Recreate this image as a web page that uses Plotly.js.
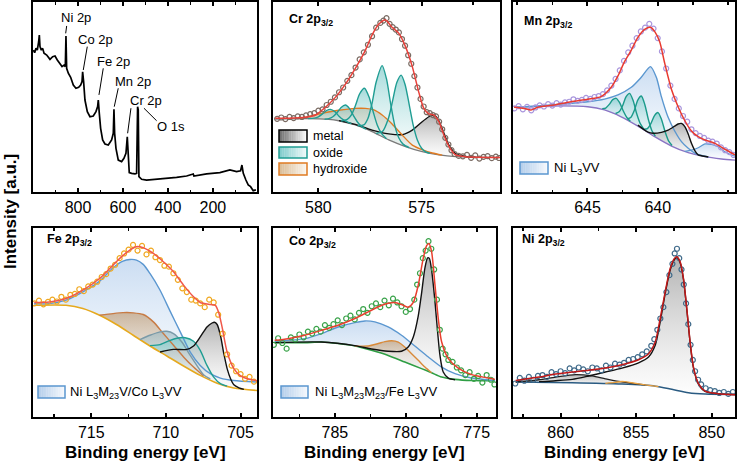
<!DOCTYPE html>
<html><head><meta charset="utf-8">
<script src="https://cdn.plot.ly/plotly-3.0.1.min.js"></script>
<style>html,body{margin:0;padding:0;background:#fff}#plot{width:739px;height:463px}</style>
</head><body><div id="plot"></div>
<script>
// ---------------- DATA ----------------
// Survey spectrum
const SURVEY_E = [998.5,992.6,986.7,980.8,974.8,971.9,969,963,957,951,939,924.5,912.6,902,892,880,871,862,856.3,853.4,850.4,843,832.6,820.8,809,797,788,782,779.3,774.9,769,758.5,746.7,732,720,712.6,709.7,705.2,699.3,690.4,680,665.2,650.4,643,640,637,631.1,620.8,606,595.6,586.7,580.8,576.3,572,561.5,546.7,539.3,534.9,532,529,517,495,450.4,406,361.6,317,287.4,284.5,228,169,124.5,94.8,77,71,65,53.4,43,32.5,20.8,9];
const SURVEY_I = [74.7,73.3,75.6,74.7,79.1,82.6,76.5,74.7,75.6,73,72.1,69.8,71.2,71.6,69.5,67.4,66,66.8,66,82.1,65.1,62.5,60.4,56.3,54.6,55.1,56.3,58.1,63.3,58.1,48.4,42.3,39.6,40,42.3,45,48.4,41.4,33.5,27.4,25.3,24.7,27.4,30.9,43.5,30.9,23,16.8,16,17.7,20.4,29.1,20.4,10.2,9.8,9.5,9.8,44.9,43.2,8.1,6.7,6.3,6.7,7.2,7.7,8.4,9.5,8.4,9.5,10.2,11.6,10.7,11.2,14.2,9.8,6.3,3.7,2.8,0.7,1.1];
const SURVEY_LABELS = ['Ni 2p','Co 2p','Fe 2p','Mn 2p','Cr 2p','O 1s'];
const SURVEY_LABEL_E = [808.9,720,640,555.6,497.9,386.8];
const SURVEY_LABEL_I = [91.8,80.5,68.9,58.4,47.9,34.7];
const SURVEY_LEAD_E0 = [850.3,758.7,687.6,621,564.5,450.3];
const SURVEY_LEAD_I0 = [87.4,76.5,65.1,54.6,44.1,37.5];
const SURVEY_LEAD_E1 = [854.7,776.5,706.7,638.7,579.2,506.7];
const SURVEY_LEAD_I1 = [83.5,64.2,51.1,44.9,30.9,44.1];

// Cr 2p3/2
const CR_DATA_E = [582.0,581.8,581.6,581.4,581.2,581.0,580.8,580.6,580.4,580.2,580.0,579.8,579.6,579.4,579.2,579.0,578.8,578.6,578.4,578.2,578.0,577.8,577.6,577.4,577.2,577.0,576.85,576.7,576.55,576.4,576.25,576.1,575.95,575.8,575.65,575.5,575.35,575.2,575.05,574.9,574.75,574.6,574.45,574.3,574.15,574.0,573.85,573.7,573.55,573.4,573.2,573.0,572.8,572.6,572.4,572.2,572.0,571.8,571.6,571.4,571.25];
const CR_DATA_I = [38.5,39.2,38.4,39.5,38.9,39.8,39.5,40.3,41.0,41.5,42.8,43.5,45.8,47.5,49.8,52.5,55.0,58.5,61.5,65.5,69.8,73.5,77.5,82.0,86.5,89.0,90.2,91.5,88.5,86.8,85.5,84.0,80.5,77.0,72.0,67.5,61.0,55.0,49.0,45.0,42.0,41.5,40.5,39.8,37.0,33.0,28.5,25.0,22.0,20.0,19.0,18.8,19.5,18.0,19.3,17.6,18.5,18.9,17.8,18.6,17.9];
const CR_FIT_E = [582.09,581.44,580.63,580.15,579.66,579.18,578.69,578.21,577.72,577.40,577.07,576.75,576.43,576.10,575.78,575.45,575.13,574.89,574.65,574.40,574.16,573.92,573.67,573.35,572.87,571.17];
const CR_FIT_I = [38.8,38.8,39.3,40.5,44.6,49.8,56.8,65.1,74.7,82.6,88.4,90.5,86.7,83.5,76.5,66.0,52.3,44.0,41.1,40.5,37.0,30.0,23.9,19.5,18.6,18.2];
const CR_BG_E = [582.09,580.63,579.5,579.01,578.21,577.40,576.59,575.78,574.97,574.16,573.35,571.17];
const CR_BG_I = [38.4,38.6,38.2,37.5,35.3,31.8,27.4,23.9,21.2,19.5,18.6,18.2];
const CR_METAL_E = [579.0,578.21,577.4,576.59,575.94,575.45,574.97,574.65,574.48,574.32,574.16,573.92,573.67,573.35,572.87,572.38];
const CR_METAL_I = [37.6,35.6,32.6,30.6,30.2,32.6,37.0,39.6,40.4,40.0,37.5,31.0,24.5,20.2,18.7,18.3];
const CR_HYD_E = [580.96,579.82,579.01,578.21,577.72,577.31,576.91,576.43,575.94,575.45,574.97,574.48,574.0];
const CR_HYD_I = [38.6,41.4,43.0,44.0,44.0,43.2,40.5,35.8,30.0,24.7,22.3,20.5,19.4];
const CR_OX1_E = [577.2,576.9,576.6,576.4,576.2,575.99,575.8,575.6,575.4,575.2,575.0,574.8,574.6];
const CR_OX1_I = [30.8,31.8,39.0,48.2,57.6,61.5,56.6,46.0,34.9,27.2,23.0,21.1,20.4];
const CR_OX2_E = [578.1,577.8,577.6,577.4,577.2,576.91,576.7,576.5,576.3,576.1,575.9,575.6];
const CR_OX2_I = [34.9,35.3,38.7,46.7,57.9,66.5,59.5,46.5,35.1,28.4,25.2,23.3];
const CR_OX3_E = [578.9,578.6,578.4,578.2,578.0,577.77,577.55,577.35,577.15,576.95,576.7];
const CR_OX3_I = [37.3,38.2,40.6,45.7,51.7,54.6,50.1,42.4,35.3,31.0,28.0];
const CR_OX4_E = [579.7,579.5,579.3,579.1,578.9,578.69,578.5,578.3,578.1,577.9,577.7];
const CR_OX4_I = [38.3,38.6,39.6,41.7,44.5,45.8,44.0,40.2,36.7,34.4,33.1];
const CR_OX5_E = [580.5,580.2,580.0,579.8,579.6,579.42,579.2,579.0,578.8,578.6,578.4];
const CR_OX5_I = [38.7,38.9,39.6,41.1,42.9,43.5,42.3,39.9,38.1,36.9,36.0];

// Mn 2p3/2
const MN_DATA_E = [650.2,649.9,649.6,649.3,649.0,648.7,648.4,648.1,647.8,647.5,647.2,646.9,646.6,646.3,646.0,645.7,645.4,645.1,644.8,644.5,644.2,643.9,643.6,643.3,643.0,642.7,642.4,642.1,641.8,641.5,641.2,640.9,640.6,640.3,640.0,639.7,639.4,639.1,638.8,638.5,638.2,637.9,637.6,637.3,637.0,636.7,636.4,636.1,635.8,635.5,635.2,634.9,634.6];
const MN_DATA_I = [44.0,45.2,43.5,44.8,43.0,44.5,45.6,45.0,46.2,45.5,46.8,46.0,47.2,47.5,48.8,48.0,48.5,49.5,49.0,50.0,50.5,51.5,53.5,56.0,59.5,64.0,69.0,73.5,77.0,81.0,84.5,86.5,88.5,86.0,81.0,74.0,65.0,56.0,49.0,44.0,40.0,37.0,33.0,31.0,29.5,28.5,27.0,26.5,25.5,23.5,22.0,21.0,19.5];
const MN_FIT_E = [650.22,649.50,649.02,648.55,647.36,646.17,644.98,644.03,643.31,642.83,642.36,641.88,641.41,640.93,640.52,640.21,639.86,639.50,639.02,638.55,638.07,637.60,637.12,636.64,635.93,635.22,634.50];
const MN_FIT_I = [44.6,44.0,43.2,44.6,45.8,47.5,48.8,50.2,55.1,61.1,68.6,74.7,81.4,85.6,86.7,84.4,79.1,67.7,54.0,44.9,37.5,32.1,29.1,27.4,25.6,22.5,19.5];
const MN_BG_E = [650.22,647.36,644.98,643.79,642.60,641.41,640.22,639.02,637.83,636.64,635.45,634.50];
const MN_BG_I = [44.6,45.3,44.9,43.2,39.6,34.7,29.1,24.2,20.7,18.6,17.4,16.8];
const MN_AUG_E = [650.22,648.55,646.17,644.98,643.79,642.83,641.88,641.17,640.52,640.10,639.74,639.26,638.79,638.31,637.83,637.36,636.88,636.4];
const MN_AUG_I = [44.6,45.3,46.7,47.5,48.9,51.1,55.1,60.4,66.0,60.4,50.2,39.3,32.1,26.5,23.0,20.5,19.2,18.4];
const MN_AUG2_E = [638.07,637.6,637.12,636.64,636.17,635.69,635.22,634.74,634.5];
const MN_AUG2_I = [21.4,22.0,23.3,25.3,25.0,23.8,21.2,19.5,18.9];
const MN_OX1_E = [643.95,643.7,643.45,643.2,642.95,642.7,642.45,642.2,641.95];
const MN_OX1_I = [43.9,44.2,46.1,48.6,49.3,46.9,42.6,39.2,37.2];
const MN_OX2_E = [643.0,642.75,642.5,642.25,642.0,641.75,641.5,641.25,641.0];
const MN_OX2_I = [41.3,42.2,45.4,50.2,51.9,48.1,41.3,36.1,33.2];
const MN_OX3_E = [642.17,641.92,641.67,641.42,641.17,640.92,640.67,640.42,640.17];
const MN_OX3_I = [38.4,39.2,42.9,48.4,50.5,46.1,38.3,32.4,29.4];
const MN_OX4_E = [640.98,640.73,640.48,640.23,639.98,639.73,639.48,639.23,638.98];
const MN_OX4_I = [33.1,33.4,36.1,40.2,41.8,38.2,31.8,26.9,24.5];
const MN_METAL_E = [641.41,640.69,640.33,639.74,639.26,638.79,638.55,638.31,638.07,637.83,637.60,637.36,637.12,636.88,636.4];
const MN_METAL_I = [35.2,31.5,30.9,31.4,32.6,34.7,35.8,36.1,34.4,30.5,25.6,21.8,19.5,19.1,18.4];

// Fe 2p3/2
const FE_DATA_E = [718.8,718.5,718.2,717.9,717.6,717.3,717.0,716.7,716.4,716.1,715.8,715.5,715.2,714.9,714.6,714.3,714.0,713.7,713.4,713.1,712.8,712.5,712.2,711.9,711.6,711.3,711.0,710.7,710.4,710.1,709.8,709.5,709.2,708.9,708.6,708.3,708.0,707.7,707.4,707.1,706.8,706.5,706.2,705.9,705.6,705.3,705.0,704.7,704.4,704.1];
const FE_DATA_I = [60.0,61.5,59.5,60.8,62.0,61.0,63.5,62.0,64.5,65.0,67.5,66.5,69.0,70.0,71.5,74.0,75.5,78.5,80.5,84.0,86.5,88.5,91.0,88.0,90.5,86.0,88.0,84.5,83.0,80.0,79.5,76.0,72.5,68.0,66.0,62.0,61.5,60.0,58.0,62.0,60.5,54.0,44.0,33.0,27.0,24.0,22.5,20.0,21.0,18.5];
const FE_FIT_E = [718.82,717.81,716.69,715.56,714.44,713.76,713.09,712.42,711.97,711.52,710.84,710.17,709.49,708.82,708.15,707.70,707.03,706.69,706.46,706.24,705.90,705.45,705.00,704.55,703.88];
const FE_FIT_I = [60.5,60.8,62.6,67.0,73.2,78.5,83.9,88.3,90.1,89.5,86.5,82.1,76.8,69.7,63.5,60.5,59.4,59.0,55.1,47.5,34.2,25.4,21.5,20.0,19.0];
const FE_BG_E = [718.82,716.69,715.56,714.44,713.31,712.19,711.07,709.94,708.82,707.70,706.57,705.45,703.88];
const FE_BG_I = [59.0,59.0,57.3,53.7,48.8,43.1,37.4,32.1,26.8,21.8,17.7,15.1,13.8];
const FE_AUG_E = [718.82,717.81,716.69,715.56,714.44,713.54,712.87,712.42,711.97,711.52,711.07,710.39,709.72,709.04,708.37,707.70,707.03,706.35,705.45,703.88];
const FE_AUG_I = [59.8,59.9,61.7,66.1,71.8,78.9,82.4,83.3,83.0,80.7,75.9,67.0,55.9,44.9,34.2,27.1,22.7,20.4,19.1,18.3];
const FE_HYD_E = [714.44,713.54,712.87,712.19,711.52,710.84,710.17,709.49,708.82,708.15,707.48];
const FE_HYD_I = [53.7,54.6,55.1,55.0,54.1,50.2,44.0,37.8,31.6,26.2,21.5];
const FE_OX_E = [711.07,710.39,709.72,709.27,708.71,708.15,707.70,707.25,706.80,706.35,705.90];
const FE_OX_I = [37.6,38.1,40.4,41.5,41.8,39.9,35.1,27.1,20.9,17.4,16.1];
const FE_MUL_E = [711.74,711.07,710.39,709.94,709.49,708.93,708.37,707.93,707.48,707.03];
const FE_MUL_I = [40.8,43.1,44.9,45.2,44.0,39.5,32.4,27.1,22.2,20.0];
const FE_METAL_E = [710.39,709.49,708.60,708.15,707.70,707.25,706.91,706.75,706.57,706.35,706.12,705.90,705.67,705.45,705.11,704.78];
const FE_METAL_I = [34.2,35.6,35.6,37.4,42.2,47.5,49.6,50.0,48.8,43.1,33.3,25.4,20.0,16.8,15.2,14.4];

// Co 2p3/2
const CO_DATA_E = [789.3,789.0,788.7,788.4,788.1,787.8,787.5,787.2,786.9,786.6,786.3,786.0,785.7,785.4,785.1,784.8,784.5,784.2,783.9,783.6,783.3,783.0,782.7,782.4,782.1,781.8,781.5,781.2,780.9,780.6,780.3,780.0,779.7,779.4,779.2,779.0,778.8,778.6,778.4,778.2,778.0,777.8,777.6,777.4,777.2,777.0,776.7,776.4,776.1,775.8,775.5,775.2,774.9,774.6,774.3,774.0,773.75];
const CO_DATA_I = [38.0,41.5,39.0,36.0,42.0,41.0,43.5,42.0,45.0,44.0,46.5,45.0,48.5,47.0,49.0,51.0,48.5,52.0,53.5,51.5,55.0,57.0,55.0,58.5,60.0,58.0,61.5,59.0,62.5,60.5,58.5,55.5,57.0,62.0,70.0,76.0,84.0,88.0,93.0,89.0,78.0,62.0,46.0,36.0,33.0,30.0,29.0,26.0,24.5,22.0,23.5,20.0,21.5,18.0,22.0,19.5,17.0];
const CO_FIT_E = [789.24,788.30,787.12,785.94,784.77,783.59,782.65,781.94,781.24,780.77,780.30,779.83,779.47,779.12,778.77,778.53,778.37,778.18,777.94,777.71,777.47,777.00,776.30,775.36,774.18,773.71];
const CO_FIT_I = [40.4,41.3,43.1,45.7,48.4,52.0,55.5,58.2,60.1,60.5,59.4,58.0,60.5,69.7,83.9,90.6,91.8,87.4,69.7,52.0,39.5,30.7,25.7,22.2,20.4,19.7];
const CO_BG_E = [789.24,787.12,785.94,784.77,783.59,782.42,781.24,780.07,778.89,778.18,777.47,776.53,775.36,773.71];
const CO_BG_I = [39.2,39.2,39.5,38.7,37.4,35.1,32.4,28.9,25.4,23.2,20.9,19.7,19.1,19.0];
const CO_AUG_E = [789.24,787.12,785.94,784.77,783.59,782.89,782.18,781.24,780.30,779.36,778.41,777.47,776.53,775.36,773.71];
const CO_AUG_I = [39.9,41.3,44.0,47.5,49.8,50.7,50.2,47.5,43.1,37.4,31.6,26.2,22.7,20.4,19.1];
const CO_SAT_E = [783.59,782.65,781.94,781.47,781.0,780.53,780.07,779.59,779.12,778.65,778.18];
const CO_SAT_I = [37.4,37.4,38.7,39.7,40.2,39.5,36.9,33.3,29.8,26.2,23.2];
const CO_METAL_E = [789.24,785.94,783.59,782.42,781.24,780.30,779.83,779.47,779.12,778.89,778.65,778.46,778.34,778.18,777.94,777.76,777.59,777.36,777.00,776.53];
const CO_METAL_I = [39.2,39.5,37.6,35.8,34.6,34.6,36.9,42.2,53.4,65.2,78.9,84.2,83.9,77.7,60.8,45.2,32.4,23.6,20.4,19.5];

// Ni 2p3/2
const NI_DATA_E = [863.0,862.7,862.4,862.1,861.8,861.5,861.2,860.9,860.6,860.3,860.0,859.7,859.4,859.1,858.8,858.5,858.2,857.9,857.6,857.3,857.0,856.7,856.4,856.1,855.8,855.5,855.2,854.9,854.6,854.3,854.0,853.8,853.6,853.4,853.2,853.0,852.8,852.6,852.45,852.3,852.15,852.0,851.85,851.7,851.55,851.4,851.25,851.1,850.9,850.7,850.4,850.1,849.8,849.5,849.2,848.9,848.6];
const NI_DATA_I = [17.5,20.5,19.0,21.0,19.5,21.5,22.0,21.0,23.5,22.5,24.0,23.0,25.5,24.5,26.0,25.0,24.0,26.0,25.5,24.5,27.0,26.0,28.0,27.5,28.5,30.0,30.5,31.5,33.0,34.5,37.5,41.0,46.0,52.0,58.0,66.0,75.0,81.0,86.5,89.0,84.0,78.0,70.0,60.0,49.0,38.0,30.0,24.0,19.5,17.0,15.0,14.0,13.5,12.5,13.0,12.0,13.0];
const NI_FIT_E = [862.97,861.43,860.33,859.23,858.14,857.04,855.94,854.84,854.18,853.74,853.41,853.08,852.75,852.47,852.31,852.09,851.87,851.65,851.43,851.21,850.88,850.44,849.56,848.46];
const NI_FIT_I = [19.1,20.9,22.5,23.6,24.5,25.7,27.5,30.1,33.3,39.5,52.0,66.1,78.5,83.9,84.8,82.1,73.2,57.3,39.5,26.2,17.4,13.5,12.1,11.5];
const NI_BG_E = [862.97,859.23,855.94,853.74,852.64,851.54,850.44,848.46];
const NI_BG_I = [18.3,17.9,17.2,16.1,14.4,12.6,11.9,11.7];
const NI_METAL_E = [861.43,860.33,859.23,858.14,857.04,855.94,854.84,854.18,853.74,853.41,853.08,852.75,852.47,852.31,852.09,851.87,851.65,851.43,851.21,850.88,850.44,849.56,848.46];
const NI_METAL_I = [18.5,19.0,19.7,21.5,23.6,25.7,28.5,31.6,37.8,50.2,65.2,77.7,83.3,84.2,81.6,72.9,56.9,39.2,25.9,17.2,13.3,12.1,11.7];
const NI_SAT_E = [862.97,861.43,860.33,859.01,857.92,857.04,856.16,855.28,854.40];
const NI_SAT_I = [18.3,19.5,20.9,22.2,21.5,20.0,18.6,17.6,16.8];
const NI_HYD_E = [857.04,856.38,855.94,855.28,854.40,853.52];
const NI_HYD_I = [17.6,18.1,18.6,17.9,16.8,15.8];

// ---------------- STYLE / BUILD ----------------
const FONT = 'Arial, "Liberation Sans", Helvetica, sans-serif';
const W = 739, H = 463;
const PX = p => p / W, PY = p => 1 - p / H;

const G_METAL = [[0,'rgba(252,252,252,0.5)'],[1,'rgba(160,160,160,0.8)']];
const G_OX = [[0,'rgba(240,250,250,0.4)'],[1,'rgba(125,202,202,0.7)']];
const G_HYD = [[0,'rgba(252,244,232,0.4)'],[1,'rgba(190,152,110,0.65)']];
const G_AUG = [[0,'rgba(246,250,254,0.5)'],[1,'rgba(186,210,238,0.75)']];
const G_MUL = [[0,'rgba(240,246,248,0.4)'],[1,'rgba(150,182,192,0.65)']];

const traces = [];
function fillPoly(ex, iy, bx, by) {
  const hi = ex[0], lo = ex[ex.length - 1];
  const X = ex.slice(), Y = iy.slice();
  for (let k = bx.length - 1; k >= 0; k--) {
    if (bx[k] < hi && bx[k] > lo) { X.push(bx[k]); Y.push(by[k]); }
  }
  return {X, Y};
}
function addFill(n, ex, iy, bx, by, scale) {
  const p = fillPoly(ex, iy, bx, by);
  traces.push({type:'scatter', x:p.X, y:p.Y, xaxis:'x'+n, yaxis:'y'+n, mode:'lines',
    line:{width:0, shape:'spline', smoothing:0.7}, fill:'toself',
    fillcolor:scale[1][1], fillgradient:{type:'vertical', colorscale:scale},
    hoverinfo:'skip', showlegend:false});
}
function addLine(n, ex, iy, color, width, shape) {
  traces.push({type:'scatter', x:ex, y:iy, xaxis:'x'+n, yaxis:'y'+n, mode:'lines',
    line:{color:color, width:width, shape:shape || 'spline', smoothing:0.7},
    hoverinfo:'skip', showlegend:false});
}
function addData(n, ex, iy, color) {
  traces.push({type:'scatter', x:ex, y:iy, xaxis:'x'+n, yaxis:'y'+n, mode:'markers',
    marker:{symbol:'circle-open', size:5, color:color, line:{width:1.2, color:color}},
    hoverinfo:'skip', showlegend:false});
}

// Survey (1)
addLine('', SURVEY_E, SURVEY_I, '#000', 1.7, 'linear');

// Cr (2)
addFill(2, CR_METAL_E, CR_METAL_I, CR_BG_E, CR_BG_I, G_METAL);
addFill(2, CR_HYD_E, CR_HYD_I, CR_BG_E, CR_BG_I, G_HYD);
[[CR_OX5_E,CR_OX5_I],[CR_OX4_E,CR_OX4_I],[CR_OX3_E,CR_OX3_I],[CR_OX2_E,CR_OX2_I],[CR_OX1_E,CR_OX1_I]]
  .forEach(a => addFill(2, a[0], a[1], CR_BG_E, CR_BG_I, G_OX));
addLine(2, CR_BG_E, CR_BG_I, '#7a7a7a', 1.3);
addLine(2, CR_METAL_E, CR_METAL_I, '#111', 1.4);
addLine(2, CR_HYD_E, CR_HYD_I, '#e07b22', 1.4);
[[CR_OX5_E,CR_OX5_I],[CR_OX4_E,CR_OX4_I],[CR_OX3_E,CR_OX3_I],[CR_OX2_E,CR_OX2_I],[CR_OX1_E,CR_OX1_I]]
  .forEach(a => addLine(2, a[0], a[1], '#1f9d93', 1.4));
addData(2, CR_DATA_E, CR_DATA_I, '#7a6b63');
addLine(2, CR_FIT_E, CR_FIT_I, '#e8403a', 1.5);

// Mn (3)
addFill(3, MN_AUG_E, MN_AUG_I, MN_BG_E, MN_BG_I, G_AUG);
addFill(3, MN_AUG2_E, MN_AUG2_I, MN_BG_E, MN_BG_I, G_AUG);
[[MN_OX1_E,MN_OX1_I],[MN_OX2_E,MN_OX2_I],[MN_OX3_E,MN_OX3_I],[MN_OX4_E,MN_OX4_I]]
  .forEach(a => addFill(3, a[0], a[1], MN_BG_E, MN_BG_I, G_OX));
addFill(3, MN_METAL_E, MN_METAL_I, MN_BG_E, MN_BG_I, G_METAL);
addLine(3, MN_BG_E, MN_BG_I, '#8a74c4', 1.4);
addLine(3, MN_AUG_E, MN_AUG_I, '#5b97d0', 1.4);
addLine(3, MN_AUG2_E, MN_AUG2_I, '#5b97d0', 1.2);
[[MN_OX1_E,MN_OX1_I],[MN_OX2_E,MN_OX2_I],[MN_OX3_E,MN_OX3_I],[MN_OX4_E,MN_OX4_I]]
  .forEach(a => addLine(3, a[0], a[1], '#1a9a8a', 1.4));
addLine(3, MN_METAL_E, MN_METAL_I, '#111', 1.4);
addData(3, MN_DATA_E, MN_DATA_I, '#a996dd');
addLine(3, MN_FIT_E, MN_FIT_I, '#e83a30', 1.5);

// Fe (4)
addFill(4, FE_AUG_E, FE_AUG_I, FE_BG_E, FE_BG_I, G_AUG);
addFill(4, FE_HYD_E, FE_HYD_I, FE_BG_E, FE_BG_I, G_HYD);
addFill(4, FE_MUL_E, FE_MUL_I, FE_BG_E, FE_BG_I, G_MUL);
addFill(4, FE_OX_E, FE_OX_I, FE_BG_E, FE_BG_I, G_OX);
addFill(4, FE_METAL_E, FE_METAL_I, FE_BG_E, FE_BG_I, G_METAL);
addLine(4, FE_BG_E, FE_BG_I, '#e6a91e', 1.6);
addLine(4, FE_AUG_E, FE_AUG_I, '#5b97d0', 1.4);
addLine(4, FE_HYD_E, FE_HYD_I, '#c77b45', 1.4);
addLine(4, FE_MUL_E, FE_MUL_I, '#7a9aa8', 1.4);
addLine(4, FE_OX_E, FE_OX_I, '#1f9d93', 1.4);
addLine(4, FE_METAL_E, FE_METAL_I, '#111', 1.4);
addData(4, FE_DATA_E, FE_DATA_I, '#f0a820');
addLine(4, FE_FIT_E, FE_FIT_I, '#f0584a', 1.5);

// Co (5)
addFill(5, CO_AUG_E, CO_AUG_I, CO_BG_E, CO_BG_I, G_AUG);
addFill(5, CO_SAT_E, CO_SAT_I, CO_BG_E, CO_BG_I, G_HYD);
addFill(5, CO_METAL_E, CO_METAL_I, CO_BG_E, CO_BG_I, G_METAL);
addLine(5, CO_BG_E, CO_BG_I, '#2e9e44', 1.6);
addLine(5, CO_AUG_E, CO_AUG_I, '#5b97d0', 1.4);
addLine(5, CO_SAT_E, CO_SAT_I, '#d88a3a', 1.4);
addLine(5, CO_METAL_E, CO_METAL_I, '#111', 1.4);
addData(5, CO_DATA_E, CO_DATA_I, '#3aa34a');
addLine(5, CO_FIT_E, CO_FIT_I, '#e8402f', 1.5);

// Ni (6)
addFill(6, NI_METAL_E, NI_METAL_I, NI_BG_E, NI_BG_I, G_METAL);
addFill(6, NI_SAT_E, NI_SAT_I, NI_BG_E, NI_BG_I, G_METAL);
addFill(6, NI_HYD_E, NI_HYD_I, NI_BG_E, NI_BG_I, G_HYD);
addLine(6, NI_BG_E, NI_BG_I, '#2a5b82', 1.5);
addLine(6, NI_SAT_E, NI_SAT_I, '#222', 1.3);
addLine(6, NI_HYD_E, NI_HYD_I, '#e8a040', 1.3);
addLine(6, NI_METAL_E, NI_METAL_I, '#111', 1.4);
addData(6, NI_DATA_E, NI_DATA_I, '#3f6a8a');
addLine(6, NI_FIT_E, NI_FIT_I, '#c01818', 1.5);

// ---------------- AXES ----------------
const PANELS = [
  {x:[33,257], y:[2,192], range:[1000,4], ticks:[800,600,400,200], minor:100},
  {x:[273,500], y:[2,192], range:[582.2,571.2], ticks:[580,575], minor:2.5},
  {x:[513,735], y:[2,192], range:[650.3,634.5], ticks:[645,640], minor:2.5},
  {x:[33,257], y:[228,416.5], range:[718.9,703.9], ticks:[715,710,705], minor:2.5},
  {x:[273,496], y:[228,416.5], range:[789.36,773.64], ticks:[785,780,775], minor:2.5},
  {x:[513,735], y:[228,416.5], range:[863.15,848.46], ticks:[860,855,850], minor:2.5}
];
const layout = {width:W, height:H, margin:{l:0,r:0,t:0,b:0}, paper_bgcolor:'#fff', plot_bgcolor:'#fff',
  showlegend:false, font:{family:FONT, color:'#000'}, annotations:[], shapes:[]};
PANELS.forEach((p, i) => {
  const s = i === 0 ? '' : String(i + 1);
  layout['xaxis' + s] = {domain:[PX(p.x[0]), PX(p.x[1])], range:p.range, autorange:false,
    anchor:'y' + s, showline:true, linecolor:'#000', linewidth:2, mirror:'ticks',
    ticks:'inside', ticklen:4, tickwidth:2, tickcolor:'#000',
    tickmode:'array', tickvals:p.ticks,
    minor:{ticks:'inside', ticklen:2.5, tickwidth:1.5, tickcolor:'#000', tick0:0, dtick:p.minor, showgrid:false},
    tickfont:{family:FONT, size:16, color:'#000'}, showgrid:false, zeroline:false, fixedrange:true};
  layout['yaxis' + s] = {domain:[PY(p.y[1]), PY(p.y[0])], range:[0,100], autorange:false,
    anchor:'x' + s, showline:true, linecolor:'#000', linewidth:2, mirror:true,
    ticks:'', showticklabels:false, showgrid:false, zeroline:false, fixedrange:true};
});

// survey labels & leaders
SURVEY_LABELS.forEach((t, i) => {
  layout.annotations.push({xref:'x', yref:'y', x:SURVEY_LABEL_E[i], y:SURVEY_LABEL_I[i], text:t,
    showarrow:false, font:{family:FONT, size:13, color:'#000'}, xanchor:'center', yanchor:'middle'});
  layout.shapes.push({type:'line', xref:'x', yref:'y', x0:SURVEY_LEAD_E0[i], y0:SURVEY_LEAD_I0[i],
    x1:SURVEY_LEAD_E1[i], y1:SURVEY_LEAD_I1[i], line:{color:'#000', width:1}});
});

// panel titles
const TITLES = [['Cr',287,20],['Mn',522,22],['Fe',45,240],['Co',287,242],['Ni',520,240]];
TITLES.forEach(t => layout.annotations.push({xref:'paper', yref:'paper', x:PX(t[1]), y:PY(t[2]),
  xanchor:'left', yanchor:'middle', showarrow:false,
  text:'<b>' + t[0] + ' 2p<sub>3/2</sub></b>', font:{family:FONT, size:12.5, color:'#000'}}));

// axis titles
[145, 384.5, 624].forEach(cx => layout.annotations.push({xref:'paper', yref:'paper', x:PX(cx), y:PY(452),
  xanchor:'center', yanchor:'middle', showarrow:false, text:'<b>Binding energy [eV]</b>',
  font:{family:FONT, size:17, color:'#000'}}));
layout.annotations.push({xref:'paper', yref:'paper', x:PX(10.5), y:PY(211.5), xanchor:'center', yanchor:'middle',
  showarrow:false, textangle:-90, text:'<b>Intensity [a.u.]</b>', font:{family:FONT, size:17, color:'#000'}});

// legend boxes (gradient strips)
function hex2rgb(h){return [parseInt(h.substr(1,2),16),parseInt(h.substr(3,2),16),parseInt(h.substr(5,2),16)];}
function gradBox(x0, y0, x1, y1, cL, cR, border) {
  const a = hex2rgb(cL), b = hex2rgb(cR), n = 16;
  for (let k = 0; k < n; k++) {
    const f = (k + 0.5) / n;
    const c = 'rgb(' + a.map((v, j) => Math.round(v + (b[j] - v) * f)).join(',') + ')';
    layout.shapes.push({type:'rect', xref:'paper', yref:'paper',
      x0:PX(x0 + (x1 - x0) * k / n), x1:PX(x0 + (x1 - x0) * (k + 1) / n + 0.3),
      y0:PY(y1), y1:PY(y0), fillcolor:c, line:{width:0}, layer:'above'});
  }
  layout.shapes.push({type:'rect', xref:'paper', yref:'paper', x0:PX(x0), x1:PX(x1), y0:PY(y1), y1:PY(y0),
    fillcolor:'rgba(0,0,0,0)', line:{color:border, width:1.5}, layer:'above'});
}
function legText(x, y, t, size) {
  layout.annotations.push({xref:'paper', yref:'paper', x:PX(x), y:PY(y), xanchor:'left', yanchor:'middle',
    showarrow:false, text:t, font:{family:FONT, size:size, color:'#000'}});
}
gradBox(279,130,307,142,'#6a6a6a','#ffffff','#000');
gradBox(279,147,307,158,'#7ccaca','#f2fbfb','#1f9d93');
gradBox(279,163,307,175,'#d9bb94','#fcf7f0','#e07b22');
legText(311,136,'metal',12.5); legText(311,152.5,'oxide',12.5); legText(311,169,'hydroxide',12.5);
gradBox(520,162,548,174,'#b3cdea','#f6f9fd','#5b97d0');
legText(552,168,'Ni L<sub>3</sub>VV',13);
gradBox(38,386,65,398,'#b3cdea','#f6f9fd','#5b97d0');
legText(68,392,'Ni L<sub>3</sub>M<sub>23</sub>V/Co L<sub>3</sub>VV',13);
gradBox(281,386,308,398,'#b3cdea','#f6f9fd','#5b97d0');
legText(313,392,'Ni L<sub>3</sub>M<sub>23</sub>M<sub>23</sub>/Fe L<sub>3</sub>VV',13);

Plotly.newPlot('plot', traces, layout, {displayModeBar:false, staticPlot:true});
</script>
</body></html>
